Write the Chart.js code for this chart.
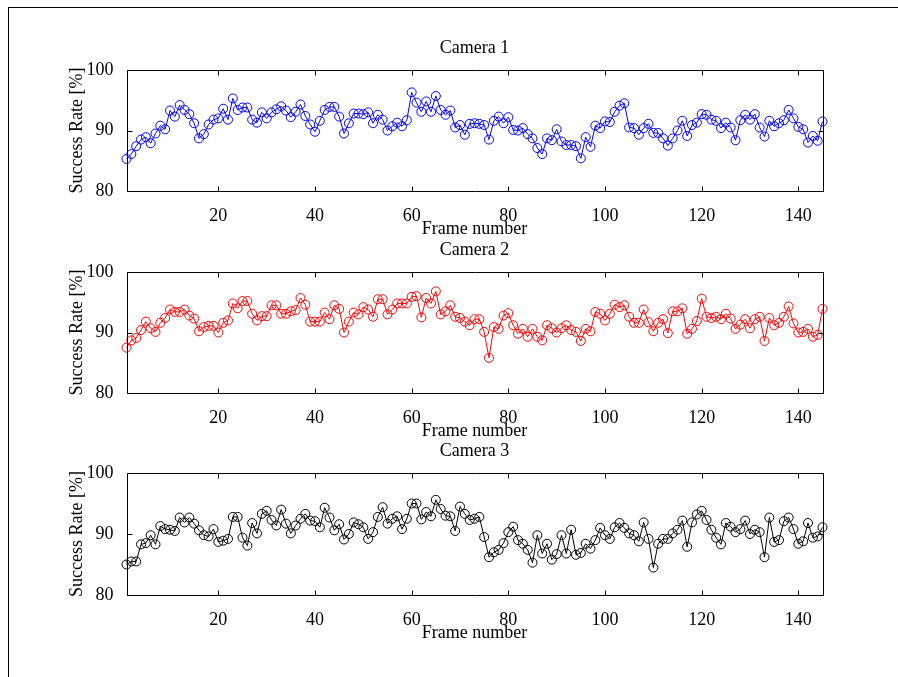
<!DOCTYPE html>
<html>
<head>
<meta charset="utf-8">
<title>Success rate per camera</title>
<script src="https://cdn.jsdelivr.net/npm/chart.js@4.4.1/dist/chart.umd.min.js"></script>
<style>
  html, body { margin: 0; padding: 0; background: #fff; }
  #wrap { position: relative; width: 898px; height: 677px; overflow: hidden; }
  #frame { position: absolute; left: 8px; top: 7px; width: 900px; height: 700px;
           border-left: 1px solid #000; border-top: 1px solid #000; }
  canvas { position: absolute; left: 0; }
</style>
</head>
<body>
<div id="wrap">
  <div id="frame"></div>
  <canvas id="cam1" width="898" height="250" style="top:0px"></canvas>
  <canvas id="cam2" width="898" height="250" style="top:202px"></canvas>
  <canvas id="cam3" width="898" height="250" style="top:403px"></canvas>
</div>
<script>
// ---- data ----
const FRAMES = Array.from({ length: 145 }, (_, i) => i + 1);
const X_TICKS = [20, 40, 60, 80, 100, 120, 140];
const Y_TICKS = [80, 90, 100];

const CAM1 = [
  85.3, 86.1, 87.4, 88.5, 88.9, 87.9, 89.5, 90.8, 90.2, 93.3,
  92.3, 94.2, 93.4, 92.7, 91.2, 88.7, 89.4, 91.0, 91.8, 92.0,
  93.6, 91.8, 95.3, 93.4, 93.8, 93.8, 91.8, 91.3, 93.0, 92.0,
  93.0, 93.5, 94.0, 93.3, 92.2, 93.1, 94.3, 92.4, 91.0, 89.8,
  91.6, 93.4, 93.9, 93.9, 92.3, 89.5, 91.2, 92.8, 92.8, 92.7,
  93.0, 91.2, 92.6, 91.8, 90.0, 90.7, 91.3, 90.7, 91.7, 96.3,
  94.6, 93.1, 94.8, 93.1, 95.7, 93.4, 92.6, 93.3, 90.5, 90.9,
  89.3, 91.1, 91.2, 91.1, 90.9, 88.5, 91.6, 92.3, 91.2, 92.2,
  90.1, 90.0, 90.4, 89.4, 88.7, 87.1, 86.1, 88.7, 88.4, 90.2,
  88.2, 87.6, 87.6, 87.4, 85.4, 88.9, 87.3, 90.8, 90.4, 91.5,
  91.4, 93.1, 94.1, 94.5, 90.5, 90.4, 89.3, 90.4, 91.1, 89.6,
  89.6, 88.7, 87.5, 88.7, 90.0, 91.6, 89.1, 90.9, 91.3, 92.7,
  92.6, 91.8, 91.6, 90.4, 91.3, 90.5, 88.4, 91.7, 92.6, 91.8,
  92.7, 90.5, 89.0, 91.6, 90.7, 91.2, 91.7, 93.4, 92.0, 90.6,
  90.2, 88.0, 89.1, 88.3, 91.5
];

const CAM2 = [
  87.5, 88.7, 89.1, 90.4, 91.8, 90.7, 90.1, 91.6, 92.4, 93.8,
  93.4, 93.4, 93.8, 92.8, 92.3, 90.2, 90.9, 91.1, 91.1, 90.0,
  91.6, 92.0, 94.8, 94.0, 95.2, 95.2, 93.1, 92.0, 92.7, 92.7,
  94.5, 94.5, 93.1, 93.1, 93.5, 93.7, 95.7, 94.6, 91.8, 91.8,
  91.8, 93.3, 92.2, 94.5, 93.9, 90.0, 91.8, 93.3, 93.0, 94.2,
  93.8, 92.6, 95.5, 95.5, 93.0, 93.8, 94.8, 94.8, 94.8, 95.9,
  96.0, 92.5, 95.7, 94.8, 96.8, 93.0, 93.5, 94.5, 92.6, 92.4,
  91.8, 91.2, 92.2, 92.2, 90.1, 85.8, 90.9, 90.6, 92.8, 93.2,
  91.2, 89.8, 90.6, 89.3, 90.6, 89.3, 88.7, 91.2, 90.7, 90.0,
  90.7, 91.2, 90.4, 90.1, 88.6, 90.6, 90.2, 93.4, 93.1, 92.0,
  93.1, 94.6, 94.2, 94.5, 92.6, 91.6, 91.6, 93.8, 91.7, 90.2,
  91.6, 92.2, 89.9, 93.5, 93.5, 94.0, 89.8, 90.6, 91.9, 95.6,
  92.6, 92.4, 92.6, 92.2, 93.1, 92.3, 90.6, 91.3, 92.2, 90.7,
  92.2, 92.6, 88.6, 92.4, 91.2, 91.6, 92.6, 94.3, 91.5, 90.0,
  90.1, 90.6, 89.3, 89.6, 93.9
];

const CAM3 = [
  85.0, 85.5, 85.5, 88.3, 88.5, 89.8, 88.3, 91.3, 90.8, 90.7,
  90.5, 92.7, 91.9, 92.7, 91.7, 90.6, 89.8, 89.6, 90.8, 88.7,
  88.9, 89.2, 92.8, 92.8, 89.4, 88.1, 91.8, 90.1, 93.3, 93.8,
  92.3, 91.4, 94.0, 91.7, 90.1, 91.4, 92.5, 93.3, 92.2, 92.1,
  91.1, 94.3, 92.7, 90.6, 91.6, 89.1, 90.0, 91.9, 91.6, 91.1,
  89.2, 90.3, 92.8, 94.4, 91.7, 92.5, 92.9, 90.8, 92.5, 95.0,
  95.0, 92.4, 93.6, 92.9, 95.6, 94.1, 93.0, 92.9, 90.5, 94.5,
  93.3, 92.3, 92.5, 92.8, 89.5, 86.2, 87.0, 87.4, 88.5, 90.3,
  91.2, 89.0, 88.4, 87.4, 85.3, 89.8, 86.8, 88.4, 85.8, 86.7,
  89.8, 86.8, 90.7, 86.6, 86.9, 88.4, 87.6, 89.0, 91.0, 89.8,
  89.2, 91.1, 91.8, 91.0, 90.1, 89.8, 88.8, 91.9, 89.2, 84.5,
  88.4, 89.2, 89.2, 90.1, 90.7, 92.2, 87.9, 91.9, 93.2, 93.8,
  92.3, 90.7, 89.4, 88.3, 91.8, 91.2, 90.3, 90.8, 92.2, 90.0,
  90.7, 90.3, 86.2, 92.7, 88.7, 89.0, 92.1, 92.7, 90.8, 88.4,
  88.8, 91.8, 89.4, 89.6, 91.1
];

// ---- styling ----
const FONT = { family: '"Liberation Serif", "Times New Roman", serif', size: 18, weight: 'normal' };
Chart.defaults.font.family = FONT.family;
Chart.defaults.color = '#000';

// box round the plot area with short inward tick marks (matlab look)
const boxTicks = {
  id: 'boxTicks',
  afterDraw(chart) {
    const { ctx, chartArea: a, scales: { x, y } } = chart;
    const L = Math.round(a.left) + 0.5, R = Math.round(a.right) + 0.5;
    const T = Math.round(a.top) + 0.5, B = Math.round(a.bottom) + 0.5;
    const len = 5;
    ctx.save();
    ctx.strokeStyle = '#000';
    ctx.lineWidth = 1;
    ctx.beginPath();
    ctx.rect(L, T, R - L, B - T);
    X_TICKS.forEach(v => {
      const px = Math.round(x.getPixelForValue(v)) + 0.5;
      ctx.moveTo(px, B); ctx.lineTo(px, B - len);
      ctx.moveTo(px, T); ctx.lineTo(px, T + len);
    });
    Y_TICKS.forEach(v => {
      const py = Math.round(y.getPixelForValue(v)) + 0.5;
      ctx.moveTo(L, py); ctx.lineTo(L + len, py);
      ctx.moveTo(R, py); ctx.lineTo(R - len, py);
    });
    ctx.stroke();
    ctx.restore();
  }
};

function makeChart(id, title, values, color, areaH) {
  const canvasH = 250, areaTop = 70, xAxisH = 52.8;
  new Chart(document.getElementById(id), {
    type: 'line',
    data: {
      datasets: [{
        data: values.map((v, i) => ({ x: FRAMES[i], y: v })),
        borderColor: color,
        borderWidth: 1,
        pointStyle: 'circle',
        pointRadius: 4.5,
        pointBorderWidth: 1,
        pointBorderColor: color,
        pointBackgroundColor: 'rgba(0,0,0,0)',
        tension: 0,
        clip: false
      }]
    },
    options: {
      responsive: false,
      animation: false,
      devicePixelRatio: 1,
      layout: { padding: { left: 62, right: 75.5, top: 37.2, bottom: canvasH - areaTop - areaH - xAxisH } },
      plugins: {
        legend: { display: false },
        tooltip: { enabled: false },
        title: {
          display: true, text: title, color: '#000', font: FONT,
          fullSize: false, padding: { top: 0, bottom: 11.2 }
        }
      },
      scales: {
        x: {
          type: 'linear', min: 1, max: 145,
          grid: { display: false }, border: { display: false },
          afterBuildTicks: s => { s.ticks = X_TICKS.map(v => ({ value: v })); },
          afterFit: s => { s.height = xAxisH; },
          ticks: { font: FONT, color: '#000', padding: 6, maxRotation: 0 },
          title: { display: true, text: 'Frame number', font: FONT, color: '#000', padding: { top: 4, bottom: 4 } }
        },
        y: {
          min: 80, max: 100,
          grid: { display: false }, border: { display: false },
          afterBuildTicks: s => { s.ticks = Y_TICKS.map(v => ({ value: v })); },
          afterFit: s => { s.width = 64.5; },
          ticks: { font: FONT, color: '#000', padding: 5 },
          title: { display: true, text: 'Success Rate [%]', font: FONT, color: '#000', padding: { top: 4, bottom: 4 } }
        }
      }
    },
    plugins: [boxTicks]
  });
}

makeChart('cam1', 'Camera 1', CAM1, '#0000ff', 121);
makeChart('cam2', 'Camera 2', CAM2, '#ff0000', 121);
makeChart('cam3', 'Camera 3', CAM3, '#000000', 122);
</script>
</body>
</html>
